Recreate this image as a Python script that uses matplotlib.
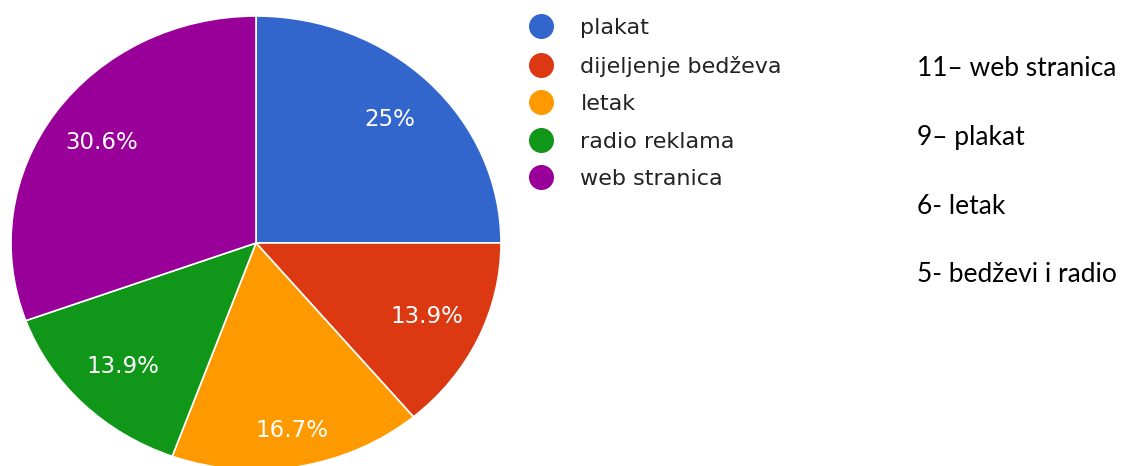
import matplotlib
matplotlib.use("Agg")
import matplotlib.pyplot as plt
from matplotlib.lines import Line2D
import numpy as np

# --------------------------------------------------------------------------- #
# data
# --------------------------------------------------------------------------- #
labels = ["plakat", "dijeljenje bedževa", "letak", "radio reklama", "web stranica"]
counts = [9, 5, 6, 5, 11]
colors = ["#3366CC", "#DC3912", "#FF9900", "#109618", "#990099"]
notes = ["11– web stranica", "9– plakat", "6- letak", "5- bedževi i radio"]

W, H = 1123, 466


def _pct(p):
    s = f"{p:.1f}"
    return (s[:-2] if s.endswith(".0") else s) + "%"


fig = plt.figure(figsize=(W / 100, H / 100), dpi=100)

# pie is slightly squashed vertically in the reference, so aspect is left free
ax = fig.add_axes([11 / W, -4 / H, 490 / W, 454 / H])
wedges, _, autotexts = ax.pie(
    counts, colors=colors, startangle=90, counterclock=False,
    autopct=_pct, pctdistance=0.77, radius=1.0,
    wedgeprops=dict(edgecolor="white", linewidth=1.2),
    textprops=dict(color="white", fontsize=16.5),
)
# bottom label sits a little further out in the reference
w = wedges[2]
mid = np.deg2rad((w.theta1 + w.theta2) / 2)
autotexts[2].set_position((0.84 * np.cos(mid), 0.84 * np.sin(mid)))

ax.set_aspect("auto")
ax.set_xlim(-1, 1)
ax.set_ylim(-1, 1)
ax.axis("off")

# legend with round markers
handles = [Line2D([], [], linestyle="none", marker="o", markersize=17,
                  markerfacecolor=c, markeredgecolor=c) for c in colors]
fig.legend(handles, labels, loc="upper left",
           bbox_to_anchor=(528.5 / W, 1 - 18 / H),
           frameon=False, fontsize=16, labelcolor="#222222",
           handlelength=1.1, handletextpad=1.24, labelspacing=0.79,
           borderpad=0, borderaxespad=0)

# side notes
for i, txt in enumerate(notes):
    fig.text(917 / W, 1 - (69 + 68.5 * i) / H, txt, ha="left", va="center",
             fontsize=19, family="Lato", color="black")

fig.savefig("out.png", dpi=100)
